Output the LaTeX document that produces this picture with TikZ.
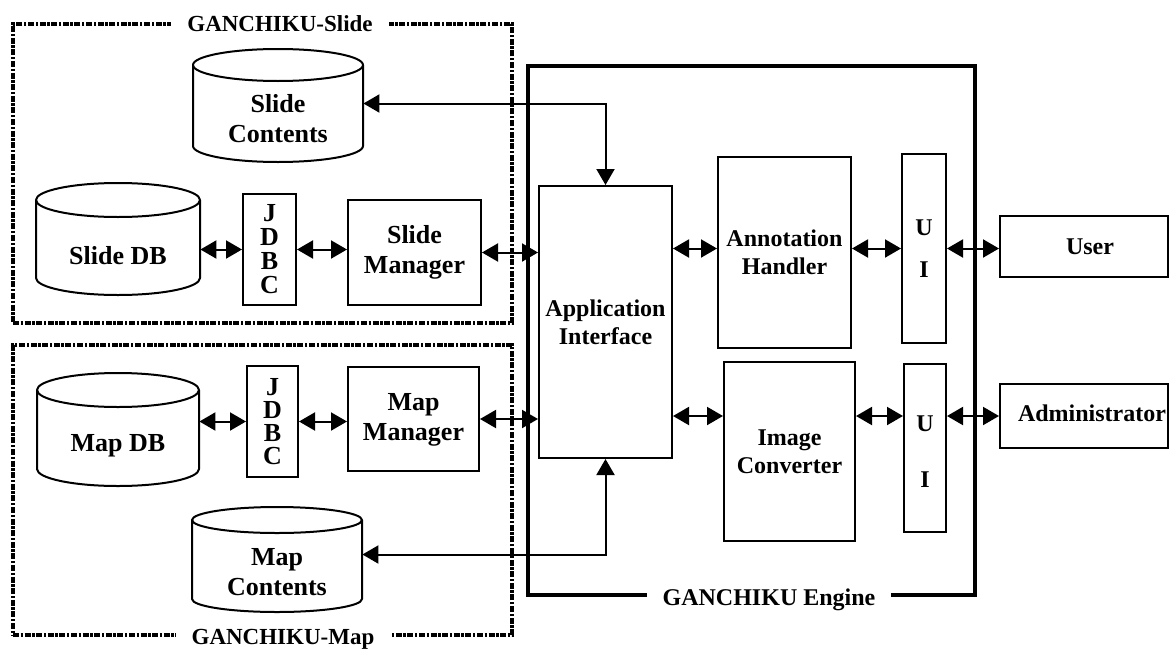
\documentclass[tikz,border=0pt]{standalone}
\usepackage{fontspec}
\setmainfont{Liberation Serif}
\usetikzlibrary{arrows.meta,fit}
\newcommand\lfont{\fontsize{13}{15}\selectfont\bfseries}
\newcommand\rfont{\fontsize{12}{14}\selectfont\bfseries}
\newcommand\gfont{\fontsize{11.5}{13}\selectfont\bfseries}
\newcommand\dbcyl[5]{%
\draw[cyl] ({#1-#2},#3) .. controls ({#1-#2},{#3-0.552*#5}) and ({#1-0.552*#2},{#3-#5}) .. (#1,{#3-#5}) .. controls ({#1+0.552*#2},{#3-#5}) and ({#1+#2},{#3-0.552*#5}) .. ({#1+#2},#3) .. controls ({#1+#2},{#3+0.552*#5}) and ({#1+0.552*#2},{#3+#5}) .. (#1,{#3+#5}) .. controls ({#1-0.552*#2},{#3+#5}) and ({#1-#2},{#3+0.552*#5}) .. cycle;
\draw[cyl] ({#1-#2},#3) -- ({#1-#2},#4) .. controls ({#1-#2},{#4+0.552*#5}) and ({#1-0.552*#2},{#4+#5}) .. (#1,{#4+#5}) .. controls ({#1+0.552*#2},{#4+#5}) and ({#1+#2},{#4+0.552*#5}) .. ({#1+#2},#4) -- ({#1+#2},#3);}
\tikzset{
  cyl/.style={line width=1pt, line join=round},
  box/.style={draw, line width=1pt, inner sep=0pt, align=center, font=\rfont},
  lbox/.style={box, font=\lfont},
  face/.style={inner sep=0pt, align=center, font=\lfont},
  group/.style={draw, line width=1.6pt, inner sep=0pt, dash pattern=on 3pt off 0.8pt on 1.2pt off 0.8pt},
  engine/.style={draw, line width=2pt, inner sep=0pt},
  glabel/.style={fill=white, inner xsep=8pt, inner ysep=2pt, font=\gfont},
  elabel/.style={fill=white, inner xsep=8pt, inner ysep=2pt, font=\rfont},
  dbl/.style={line width=1pt, {Triangle[length=8pt,width=9pt]}-{Triangle[length=8pt,width=9pt]}},
}
\begin{document}
\begin{tikzpicture}[x=0.5pt,y=-0.5pt]
\useasboundingbox (0,0) rectangle (1171,648);
% containers
\node[group, fit={(13,24)(512,323)}] (slidegrp) {};
\node[group, fit={(13,345)(512,635)}] (mapgrp) {};
\node[engine, fit={(528,66)(975,595)}] (engine) {};
\node[glabel] (slidelbl) at (280,24) {GANCHIKU-Slide};
\node[glabel, anchor=base] (maplbl) at (283,644) {GANCHIKU-Map};
\node[elabel] (englbl) at (769,600) {GANCHIKU Engine};
% cylinders
\dbcyl{278}{85}{65}{146}{16}
\node[face, minimum width=85pt, minimum height=40.5pt] (slidecont) at (278,121.5) {\raisebox{-2pt}{\begin{tabular}{@{}c@{}}Slide\\Contents\end{tabular}}};
\dbcyl{118}{82}{200}{278}{17}
\node[face, minimum width=82pt, minimum height=39pt] (slidedb) at (118,256) {Slide DB};
\dbcyl{118}{81}{390}{469}{17}
\node[face, minimum width=81pt, minimum height=39.5pt] (mapdb) at (118,446.5) {\raisebox{4pt}{Map DB}};
\dbcyl{277}{85}{520}{599}{13}
\node[face, minimum width=85pt, minimum height=39.5pt] (mapcont) at (277,572.5) {Map\\Contents};
% boxes
\node[lbox, minimum width=26.5pt, minimum height=55.5pt, font=\fontsize{13}{12}\selectfont\bfseries] (jdbc1) at (269.5,249.5) {J\\D\\B\\C};
\node[lbox, minimum width=66.5pt, minimum height=52.5pt] (sm) at (414.5,252.5) {\raisebox{2pt}{\begin{tabular}{@{}c@{}}Slide\\Manager\end{tabular}}};
\node[lbox, minimum width=25.5pt, minimum height=55.5pt, font=\fontsize{13}{11.5}\selectfont\bfseries] (jdbc2) at (272.5,421.5) {J\\D\\B\\C};
\node[lbox, minimum width=65.5pt, minimum height=52pt] (mm) at (413.5,419) {\raisebox{-4pt}{\begin{tabular}{@{}c@{}}Map\\Manager\end{tabular}}};
\node[box, minimum width=66.5pt, minimum height=136pt] (app) at (605.5,322) {Application\\Interface};
\node[box, minimum width=66.5pt, minimum height=95.5pt] (annot) at (784.5,252.5) {Annotation\\Handler};
\node[box, minimum width=22pt, minimum height=94.5pt, font=\fontsize{12}{21}\selectfont\bfseries] (ui1) at (924,248.5) {\raisebox{-3pt}{\begin{tabular}{@{}c@{}}U\\I\end{tabular}}};
\node[box, minimum width=84pt, minimum height=30.5pt] (user) at (1084,246.5) {\hspace*{6pt}User};
\node[box, minimum width=65.5pt, minimum height=89.5pt] (imgc) at (789.5,451.5) {Image\\Converter};
\node[box, minimum width=21pt, minimum height=84pt, font=\fontsize{12}{28}\selectfont\bfseries] (ui2) at (925,448) {\raisebox{-5pt}{\begin{tabular}{@{}c@{}}U\\I\end{tabular}}};
\node[box, minimum width=84pt, minimum height=32pt] (admin) at (1084,416) {\raisebox{3pt}{\hspace*{8pt}Administrator}};
% connectors
\draw[dbl] (jdbc1.west -| slidedb.east) -- (jdbc1.west);
\draw[dbl] (jdbc1.east) -- (jdbc1.east -| sm.west);
\draw[dbl] (sm.east) -- (sm.east -| app.west);
\draw[dbl] (jdbc2.west -| mapdb.east) -- (jdbc2.west);
\draw[dbl] (jdbc2.east) -- (jdbc2.east -| mm.west);
\draw[dbl] (mm.east) -- (mm.east -| app.west);
\draw[dbl] ([yshift=9pt]slidecont.east) -| (app.north);
\draw[dbl] ([yshift=9pt]mapcont.east) -| (app.south);
\draw[dbl] (app.east |- ui1) -- (annot.west |- ui1);
\draw[dbl] (annot.east |- ui1) -- (ui1.west);
\draw[dbl] (ui1.east) -- (ui1.east -| user.west);
\draw[dbl] (app.east |- admin) -- (imgc.west |- admin);
\draw[dbl] (imgc.east |- admin) -- (ui2.west |- admin);
\draw[dbl] (ui2.east |- admin) -- (admin.west);
\end{tikzpicture}
\end{document}
